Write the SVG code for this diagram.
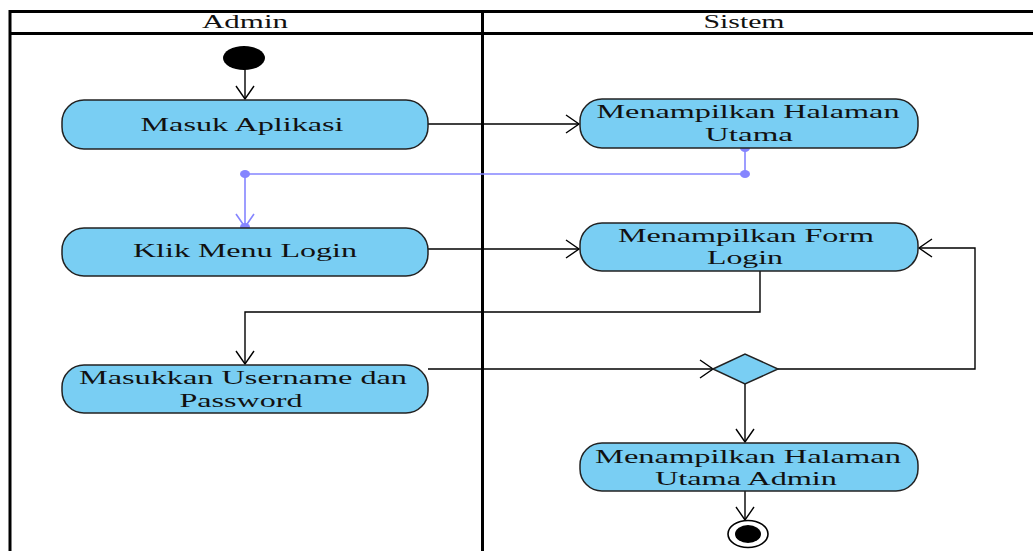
<svg xmlns="http://www.w3.org/2000/svg" width="1033" height="551" viewBox="0 0 1033 551">
<style>
.lane{fill:none;stroke:#000;stroke-width:3}
.act{fill:#79CEF3;stroke:#222;stroke-width:1.5}
.t{font-family:"Liberation Serif","Times New Roman",serif;font-size:19px;fill:#111;text-anchor:middle}
.c{fill:none;stroke:#000;stroke-width:1.4}
.cb{fill:none;stroke:#8585ff;stroke-width:1.6}
.dot{fill:#8585ff}
</style>
<defs>
<marker id="ah" markerUnits="userSpaceOnUse" markerWidth="16" markerHeight="22" refX="14" refY="11" orient="auto" viewBox="0 0 16 22">
<path d="M1,2 L14,11 L1,20" fill="none" stroke="#000" stroke-width="1.4"/>
</marker>
<marker id="ahb" markerUnits="userSpaceOnUse" markerWidth="16" markerHeight="22" refX="14" refY="11" orient="auto" viewBox="0 0 16 22">
<path d="M1,2 L14,11 L1,20" fill="none" stroke="#8585ff" stroke-width="1.6"/>
</marker>
</defs>
<rect width="1033" height="551" fill="#fff"/>
<g id="lanes">
<path class="lane" d="M10,560 V11.5 H1040 M10,33.5 H1040 M482.5,11.5 V560"/>
<text class="t" x="245" y="28" textLength="86" lengthAdjust="spacingAndGlyphs">Admin</text>
<text class="t" x="744" y="28" textLength="81" lengthAdjust="spacingAndGlyphs">Sistem</text>
</g>
<g id="connectors">
<path class="c" d="M245,69 V99" marker-end="url(#ah)"/>
<path class="c" d="M428,124 H579" marker-end="url(#ah)"/>
<path class="cb" d="M745,148 V174 H245 V227" marker-end="url(#ahb)"/>
<path class="c" d="M428,249 H579" marker-end="url(#ah)"/>
<path class="c" d="M760,271 V312 H245 V364" marker-end="url(#ah)"/>
<path class="c" d="M428,369 H713" marker-end="url(#ah)"/>
<path class="c" d="M778,369 H975 V248 H919" marker-end="url(#ah)"/>
<path class="c" d="M745,384 V442" marker-end="url(#ah)"/>
<path class="c" d="M745,491 V520" marker-end="url(#ah)"/>
<ellipse class="dot" cx="745" cy="148" rx="5" ry="4"/>
<ellipse class="dot" cx="745" cy="174" rx="5" ry="4"/>
<ellipse class="dot" cx="245" cy="174" rx="5" ry="4"/>
<ellipse class="dot" cx="245" cy="227" rx="5" ry="4"/>
</g>
<g id="start">
<ellipse cx="244" cy="58" rx="21" ry="12" fill="#000"/>
</g>
<g id="masuk-aplikasi">
<rect class="act" x="62" y="100" width="366" height="49" rx="22" ry="22"/>
<text class="t" x="242" y="131" textLength="203" lengthAdjust="spacingAndGlyphs">Masuk Aplikasi</text>
</g>
<g id="halaman-utama">
<rect class="act" x="580" y="99" width="338" height="49" rx="22" ry="22"/>
<text class="t" x="748" y="118" textLength="303" lengthAdjust="spacingAndGlyphs">Menampilkan Halaman</text>
<text class="t" x="749" y="141" textLength="88" lengthAdjust="spacingAndGlyphs">Utama</text>
</g>
<g id="klik-menu-login">
<rect class="act" x="62" y="228" width="366" height="48" rx="22" ry="22"/>
<text class="t" x="245" y="257" textLength="224" lengthAdjust="spacingAndGlyphs">Klik Menu Login</text>
</g>
<g id="form-login">
<rect class="act" x="580" y="223" width="338" height="48" rx="22" ry="22"/>
<text class="t" x="746" y="242" textLength="256" lengthAdjust="spacingAndGlyphs">Menampilkan Form</text>
<text class="t" x="745" y="264" textLength="76" lengthAdjust="spacingAndGlyphs">Login</text>
</g>
<g id="masukkan-username">
<rect class="act" x="62" y="365" width="366" height="48" rx="22" ry="22"/>
<text class="t" x="243" y="384" textLength="328" lengthAdjust="spacingAndGlyphs">Masukkan Username dan</text>
<text class="t" x="241" y="407" textLength="123" lengthAdjust="spacingAndGlyphs">Password</text>
</g>
<g id="decision">
<polygon class="act" points="713,369 745,354 778,369 745,384"/>
</g>
<g id="halaman-utama-admin">
<rect class="act" x="580" y="443" width="338" height="48" rx="22" ry="22"/>
<text class="t" x="748" y="463" textLength="306" lengthAdjust="spacingAndGlyphs">Menampilkan Halaman</text>
<text class="t" x="746" y="485" textLength="182" lengthAdjust="spacingAndGlyphs">Utama Admin</text>
</g>
<g id="end">
<ellipse cx="748" cy="534" rx="20" ry="13.5" fill="#fff" stroke="#000" stroke-width="1.6"/>
<ellipse cx="748" cy="534" rx="13" ry="9" fill="#000"/>
</g>
</svg>
